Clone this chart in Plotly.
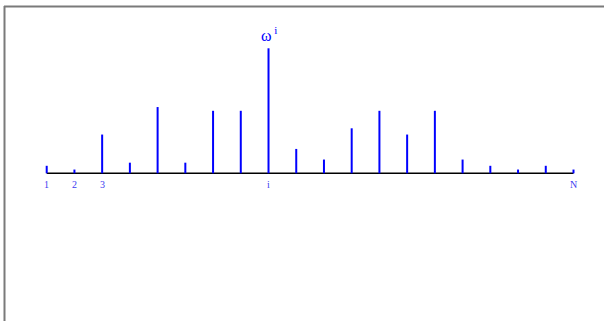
import plotly.graph_objects as go

# Sample positions 1..N and their weights (the stem heights)
positions = list(range(1, 21))
weights = [0.06, 0.03, 0.31, 0.085, 0.53, 0.085, 0.50, 0.50, 1.00, 0.195,
           0.11, 0.36, 0.50, 0.31, 0.50, 0.11, 0.06, 0.03, 0.06, 0.03]

# Axis labels shown under selected positions
label_positions = [1, 2, 3, 9, 20]
label_texts = ["1", "2", "3", "i", "N"]

# Position that carries the highlighted weight
peak_position = 9
peak_label = "ω<sup> i</sup>"

W, H = 604, 321
blue = "#0000ff"

# Build vertical stems as one line trace broken by None
stem_x, stem_y = [], []
for p, w in zip(positions, weights):
    stem_x += [p, p, None]
    stem_y += [0, w, None]

fig = go.Figure()

# Horizontal baseline from first to last position
fig.add_trace(go.Scatter(
    x=[positions[0], positions[-1]], y=[0, 0], mode="lines",
    line=dict(color="black", width=1.5), hoverinfo="skip", showlegend=False))

fig.add_trace(go.Scatter(
    x=stem_x, y=stem_y, mode="lines",
    line=dict(color=blue, width=2), hoverinfo="skip", showlegend=False))

# Position labels below the baseline
for p, t in zip(label_positions, label_texts):
    fig.add_annotation(
        x=p, y=0, xref="x", yref="y", text=t, showarrow=False,
        yanchor="top", yshift=-4,
        font=dict(family="Liberation Serif", size=10, color="#3c3cf0"))

# Label above the highlighted stem
peak_w = weights[positions.index(peak_position)]
fig.add_annotation(
    x=peak_position, y=peak_w, xref="x", yref="y", text=peak_label,
    showarrow=False, yanchor="bottom", yshift=2, xshift=0,
    font=dict(family="Liberation Serif", size=16, color=blue))

# Grey frame along the top and left edges
fig.add_shape(type="line", xref="paper", yref="paper",
              x0=4 / W, x1=1, y0=1 - 6.5 / H, y1=1 - 6.5 / H,
              line=dict(color="#7a7a7a", width=2))
fig.add_shape(type="line", xref="paper", yref="paper",
              x0=4.5 / W, x1=4.5 / W, y0=0, y1=1 - 6 / H,
              line=dict(color="#7a7a7a", width=2))

# Scales: spacing of ~27.73 px per position, 125 px per unit weight
px_per_pos = (573.5 - 46.7) / 19
px_per_unit = 125.0
x0 = 1 - 46.7 / px_per_pos
x1 = 1 + (W - 46.7) / px_per_pos
y_axis_px = 173.3
y1 = y_axis_px / px_per_unit
y0 = -(H - y_axis_px) / px_per_unit

fig.update_xaxes(range=[x0, x1], visible=False, fixedrange=True)
fig.update_yaxes(range=[y0, y1], visible=False, fixedrange=True)
fig.update_layout(
    width=W, height=H,
    margin=dict(l=0, r=0, t=0, b=0),
    paper_bgcolor="white", plot_bgcolor="white",
    showlegend=False,
)

fig.write_html("out.html")
